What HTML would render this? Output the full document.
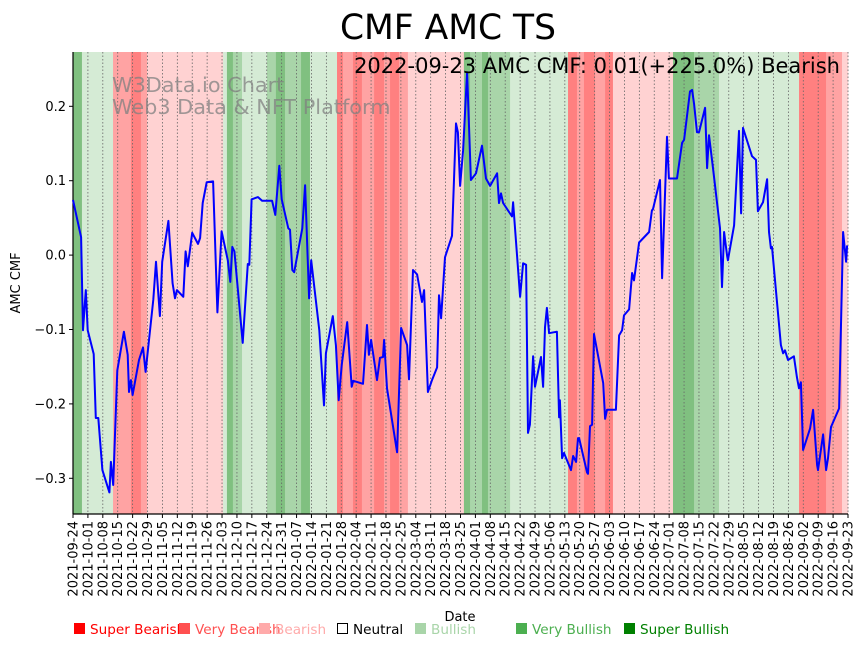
<!DOCTYPE html>
<html><head><meta charset="utf-8"><style>
html,body{margin:0;padding:0;background:#fff;}
svg{display:block;font-family:"DejaVu Sans","Liberation Sans",sans-serif;}
</style></head><body>
<svg id="chart" width="864" height="646" viewBox="0 0 864 646"></svg>
<script>
const startDate = "2021-09-24";
const bandStart = [0,4.2,18.8,27.2,31.9,34.8,70.5,72.3,75.1,79.4,91.1,95.3,99.6,107.1,111.3,124,126.8,131.5,135.7,141.4,146.1,148.9,153.1,157.3,183.6,186.5,192.1,194.9,205.3,232.5,236.7,240,245.2,249.9,253.6,281.8,291.7,303.4,341,353.7,361.2];
const bandEnd = [4.2,18.8,27.2,31.9,34.8,70.5,72.3,75.1,79.4,91.1,95.3,99.6,107.1,111.3,124,126.8,131.5,135.7,141.4,146.1,148.9,153.1,157.3,183.6,186.5,192.1,194.9,205.3,232.5,236.7,240,245.2,249.9,253.6,281.8,291.7,303.4,341,353.7,361.2,364];
const bandLevel = [3,1,-2,-3,-2,-1,1,3,2,1,2,3,2,3,1,-3,-2,-3,-2,-3,-2,-3,-2,-1,3,2,3,2,1,-3,-2,-3,-2,-3,-1,3,2,1,-3,-2,-1];
const days = [0,3.8,4.7,6.0,6.9,9.7,10.7,11.9,13.8,17.1,17.8,18.9,20.8,23.9,25.7,26.3,27.2,28.0,31.0,32.9,34.1,37.7,39.0,40.8,41.9,44.8,46.8,47.9,48.8,51.8,52.9,53.9,56.0,58.7,59.7,60.9,62.8,65.8,67.8,69.8,72.7,73.9,74.8,75.8,79.7,82.1,82.8,83.9,86.9,88.8,93.5,95.0,96.9,98.0,101.1,101.9,103.0,103.9,107.7,109.0,110.9,111.9,115.7,117.9,118.8,122.0,123.5,124.8,126.2,128.8,130.9,131.6,136.2,138.1,139,140,142.8,144.2,145.6,146.1,147.5,152.2,154.1,156.9,157.8,159.7,161.6,163.9,164.9,166.7,168.6,171,171.9,172.9,174.7,178,179.9,180.8,181.8,183.2,185.1,186.9,189.3,192.1,194,195.9,199.2,200.1,201,202,206.2,206.7,210,211.4,212.8,213.7,214.6,216.1,217,219.8,220.8,221.7,222.6,223.6,227.3,228.3,228.7,229.7,230.6,233.9,234.9,236.3,237.2,237.7,241.4,241.9,242.8,243.8,244.7,249,249.9,250.8,255,256.5,257.9,258.8,261.2,262.6,263.5,265.9,270.6,271.9,272.4,275.7,276.7,279,279.9,283.7,286.1,287,289.8,290.8,291.7,293.1,294,296.9,297.8,298.7,300.6,303.9,304.8,305.8,307.2,307.6,310.5,312.8,313.8,314.7,318.9,320.8,321.7,324.1,326,326.9,327.8,328.3,332.5,333.5,334.4,335.8,338.6,340,341,341.9,342.9,346.2,347.6,349.5,349.9,352.3,353.7,354.6,356,359.8,361.7,363.1,363.6];
const cmfValues = [0.074,0.024,-0.101,-0.047,-0.101,-0.133,-0.219,-0.219,-0.289,-0.319,-0.278,-0.309,-0.155,-0.103,-0.134,-0.184,-0.168,-0.188,-0.141,-0.124,-0.157,-0.060,-0.009,-0.082,-0.009,0.046,-0.038,-0.058,-0.047,-0.056,0.005,-0.015,0.030,0.015,0.023,0.070,0.098,0.099,-0.077,0.032,-0.007,-0.036,0.011,0.005,-0.118,-0.012,-0.013,0.075,0.078,0.073,0.073,0.054,0.120,0.075,0.036,0.034,-0.020,-0.023,0.036,0.094,-0.058,-0.007,-0.101,-0.202,-0.132,-0.082,-0.121,-0.195,-0.148,-0.090,-0.177,-0.169,-0.173,-0.094,-0.134,-0.114,-0.168,-0.138,-0.137,-0.114,-0.179,-0.265,-0.098,-0.121,-0.167,-0.020,-0.026,-0.063,-0.047,-0.184,-0.168,-0.151,-0.054,-0.085,-0.003,0.026,0.177,0.165,0.093,0.141,0.246,0.101,0.110,0.147,0.103,0.093,0.110,0.070,0.083,0.070,0.052,0.071,-0.056,-0.011,-0.013,-0.239,-0.228,-0.136,-0.177,-0.137,-0.177,-0.097,-0.071,-0.105,-0.103,-0.218,-0.195,-0.273,-0.266,-0.289,-0.270,-0.278,-0.246,-0.246,-0.292,-0.294,-0.230,-0.228,-0.106,-0.172,-0.220,-0.208,-0.208,-0.108,-0.101,-0.081,-0.073,-0.024,-0.034,0.017,0.031,0.060,0.062,0.101,-0.031,0.159,0.103,0.103,0.151,0.155,0.220,0.222,0.203,0.165,0.165,0.198,0.117,0.161,0.117,0.036,-0.043,0.031,-0.001,-0.007,0.040,0.167,0.056,0.171,0.133,0.128,0.059,0.071,0.102,0.031,0.009,0.011,-0.121,-0.132,-0.128,-0.141,-0.136,-0.164,-0.179,-0.171,-0.262,-0.233,-0.208,-0.282,-0.289,-0.241,-0.289,-0.273,-0.231,-0.206,0.031,-0.009,0.013];
const yTicks = [0.2,0.1,0.0,-0.1,-0.2,-0.3];
const yTickLabels = ["0.2","0.1","0.0","\u22120.1","\u22120.2","\u22120.3"];
const legendLabels = ["Super Bearish","Very Bearish","Bearish","Neutral","Bullish","Very Bullish","Super Bullish"];

const NS="http://www.w3.org/2000/svg";
const svg=document.getElementById('chart');
const X0=73,X1=848,Y0=52,Y1=514,DMAX=364,VMAX=0.273,VMIN=-0.348;
const xs=d=>X0+(d/DMAX)*(X1-X0);
const ys=v=>Y0+(VMAX-v)/(VMAX-VMIN)*(Y1-Y0);
function mk(tag,attrs,parent){const e=document.createElementNS(NS,tag);for(const k in attrs)e.setAttribute(k,attrs[k]);(parent||svg).appendChild(e);return e;}
const bandColor={"3":"#80c080","2":"#a9d5a9","1":"#d5ebd5","-1":"#ffd2d2","-2":"#ffa3a3","-3":"#ff8080"};

let t=mk('text',{x:448,y:39,'font-size':34.5,'text-anchor':'middle',fill:'#000'});


t.textContent='CMF AMC TS';

const gB=mk('g',{});


for(let i=0;i<bandStart.length;i++){
  const r=mk('rect',{x:xs(bandStart[i]),y:Y0,width:xs(bandEnd[i])-xs(bandStart[i])+0.3,height:Y1-Y0,fill:bandColor[String(bandLevel[i])]},gB);
  
  
}
const start=new Date(startDate+"T00:00:00Z");
const gX=mk('g',{});


for(let w=0;w<=52;w++){
  const d=w*7,x=xs(d);
  const gl=mk('line',{x1:x,x2:x,y1:Y0,y2:Y1,stroke:'#666','stroke-width':0.8,'stroke-dasharray':'1.5,2'},gX);
  
  
  mk('line',{x1:x,x2:x,y1:Y1,y2:Y1+4,stroke:'#000','stroke-width':1},gX);
  const dt=new Date(start.getTime()+d*86400000).toISOString().slice(0,10);
  const tl=mk('text',{x:0,y:0,'font-size':13,'text-anchor':'end',transform:`translate(${x+4.5},${Y1+7}) rotate(-90)`},gX);
  
  
  tl.textContent=dt;
}
const gY=mk('g',{});


yTicks.forEach((v,i)=>{
  const y=ys(v);
  mk('line',{x1:X0-4,x2:X0,y1:y,y2:y,stroke:'#000'},gY);
  const tl=mk('text',{x:X0-7,y:y+4.5,'font-size':13,'text-anchor':'end'},gY);
  
  
  tl.textContent=yTickLabels[i];
});
mk('line',{x1:X0,x2:X0,y1:Y0,y2:Y1,stroke:'#000','stroke-width':1.2});
mk('line',{x1:X0,x2:X1,y1:Y1,y2:Y1,stroke:'#000','stroke-width':1.2});

const wm=mk('text',{x:112,y:92,'font-size':20.8,fill:'#808080','fill-opacity':0.75});


wm.innerHTML='<tspan x="112" y="92">W3Data.io Chart</tspan><tspan x="112" y="114">Web3 Data &amp; NFT Platform</tspan>';

let pts=days.map((d,i)=>xs(d).toFixed(1)+','+ys(cmfValues[i]).toFixed(1)).join(' ');
const ln=mk('polyline',{points:pts,fill:'none',stroke:'#0000ff','stroke-width':2,'stroke-linejoin':'round'});



const st=mk('text',{x:840,y:73,'font-size':21,'text-anchor':'end'});


st.textContent='2022-09-23 AMC CMF: 0.01(+225.0%) Bearish';

const yl=mk('text',{x:0,y:0,'font-size':13,'text-anchor':'middle',transform:'translate(20,283) rotate(-90)'});


yl.textContent='AMC CMF';
const xl=mk('text',{x:460,y:621,'font-size':13,'text-anchor':'middle'});


xl.textContent='Date';

const lgX=[74,179,259,337,415,516,624];
const lgC=["#ff0000","#ff5050","#ffaaaa","#000","#a9d5a9","#4caf50","#008000"];
const gL=mk('g',{});


legendLabels.forEach((s,i)=>{
  const g=mk('g',{},gL);
  
  
  if(i===3) mk('rect',{x:lgX[i]+0.5,y:623.5,width:10,height:10,fill:'#fff',stroke:'#000'},g);
  else mk('rect',{x:lgX[i],y:623,width:11,height:11,fill:lgC[i]},g);
  const tx=mk('text',{x:lgX[i]+16,y:634,'font-size':13.6,fill:lgC[i]},g);
  tx.textContent=s;
});
</script>
</body></html>
